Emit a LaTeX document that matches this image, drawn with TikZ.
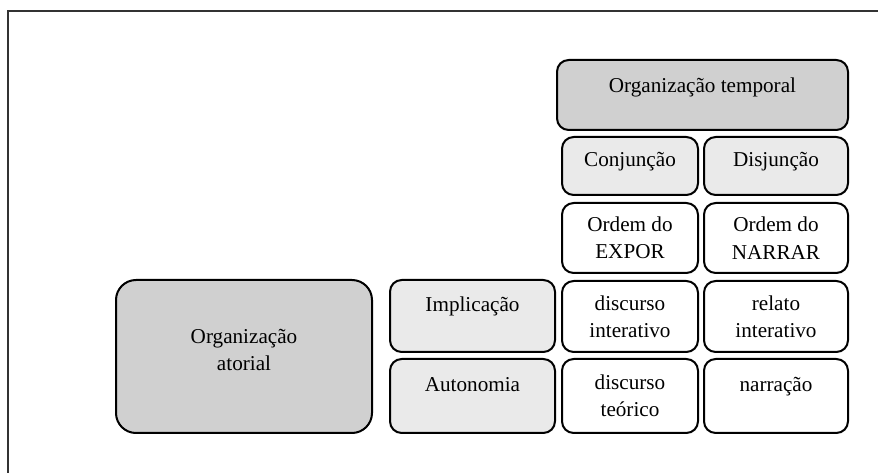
\documentclass[tikz,border=0pt]{standalone}
\usepackage{fontspec}
\setmainfont{Liberation Serif}
\usepackage{tikz}
\usetikzlibrary{positioning}
\definecolor{frame1}{RGB}{51,51,51}
\definecolor{dark1}{RGB}{208,208,208}
\definecolor{light1}{RGB}{234,234,234}

\begin{document}
\begin{tikzpicture}[x=0.6pt, y=-0.6pt,
    every node/.style={font=\fontsize{12.7}{16.4}\selectfont, align=center, inner sep=0pt},
    organ/.style={draw=black, fill=dark1, line width=1.2pt, rounded corners=7pt},
    relation/.style={draw=black, fill=light1, line width=1.2pt, rounded corners=7pt, minimum height=34.8pt},
    discourse/.style={draw=black, fill=white, line width=1.2pt, rounded corners=7pt},
    lift/.style={text depth=#1}
]

    \useasboundingbox (0,0) rectangle (878,473);
    \draw[frame1, line width=0.9pt] (8,473) |- (878,11);

    % temporal axis
    \node[organ, lift=12.3pt, minimum width=174.6pt, minimum height=42pt, name=temporal] at(702.5,95) {Organização temporal};
    \node[relation, lift=7.5pt, minimum width=81.6pt, name=conj] at(630,166) {Conjunção};
    \node[relation, lift=7.5pt, minimum width=86.4pt, name=disj] at(776,166) {Disjunção};
    \node[discourse, minimum width=81.6pt, minimum height=42pt, name=expor] at(630,238) {Ordem do\\EXPOR};
    \node[discourse, minimum width=86.4pt, minimum height=42pt, name=narrar] at(776,238) {Ordem do\\NARRAR};

    % actorial axis
    \node[organ, rounded corners=12pt, lift=7.8pt, minimum width=153.6pt, minimum height=91.8pt, name=atorial] at(244,356.5) {Organização\\atorial};
    \node[relation, lift=13.9pt, minimum width=99pt, minimum height=43.2pt, name=impl] at(472.5,316) {Implicação};
    \node[relation, lift=13.9pt, minimum width=99pt, minimum height=44.4pt, name=auto] at(472.5,396) {Autonomia};

    % discourse types
    \node[discourse, minimum width=81.6pt, minimum height=42.6pt, name=discint] at(630,316.5) {discurso\\interativo};
    \node[discourse, minimum width=86.4pt, minimum height=42.6pt, name=relint] at(776,316.5) {relato\\interativo};
    \node[discourse, minimum width=81.6pt, minimum height=44.4pt, name=discteo] at(630,396) {discurso\\teórico};
    \node[discourse, lift=13.6pt, minimum width=86.4pt, minimum height=44.4pt, name=narr] at(776,396) {narração};
\end{tikzpicture}
\end{document}
